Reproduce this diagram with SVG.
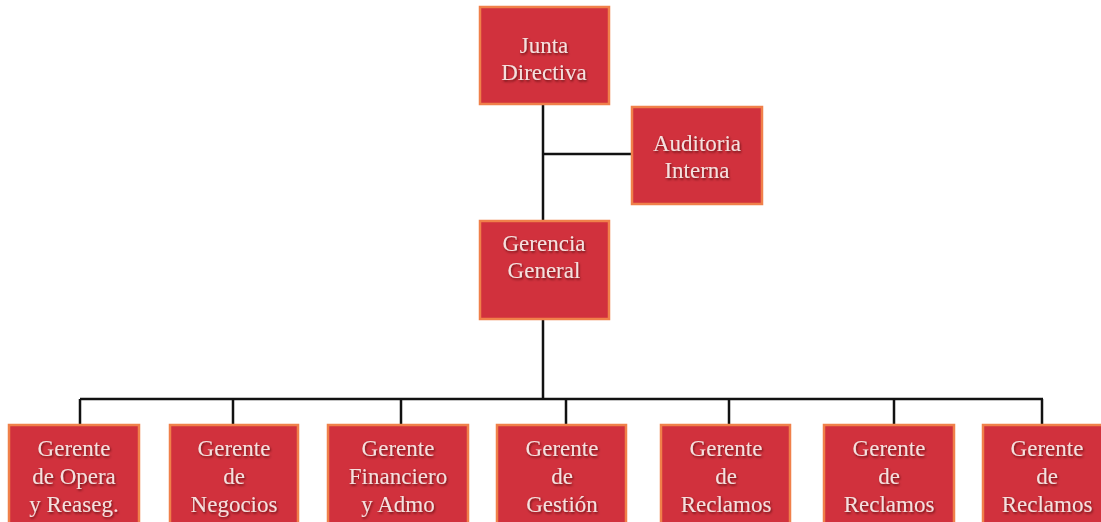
<svg xmlns="http://www.w3.org/2000/svg" width="1101" height="522" viewBox="0 0 1101 522">
<defs>
<filter id="sh" x="-10%" y="-10%" width="130%" height="140%">
<feDropShadow dx="1" dy="1.5" stdDeviation="0.8" flood-color="#3a0a0a" flood-opacity="0.7"/>
</filter>
<style>
.box{fill:#D1313D;stroke:#F0804A;stroke-width:2.5}
.t{font-family:"Liberation Serif","Times New Roman",serif;font-size:23px;fill:#F5E0DE;text-anchor:middle;filter:url(#sh)}
.c{stroke:#111;stroke-width:2.5;fill:none}
</style>
</defs>
<rect width="1101" height="522" fill="#fff"/>
<g id="connectors">
<path class="c" d="M543 104V221M543 154H632M543 319V399M80 399H1043M80 399V425M233 399V425M401 399V425M566 399V425M729 399V425M894 399V425M1042 399V425"/>
</g>
<g id="junta"><rect class="box" x="480" y="7" width="129" height="97"/><text class="t" x="544" y="53">Junta</text><text class="t" x="544" y="80">Directiva</text></g>
<g id="auditoria"><rect class="box" x="632" y="107" width="130" height="97"/><text class="t" x="697" y="151">Auditoria</text><text class="t" x="697" y="178">Interna</text></g>
<g id="gerencia"><rect class="box" x="480" y="221" width="129" height="98"/><text class="t" x="544" y="251">Gerencia</text><text class="t" x="544" y="278">General</text></g>
<g id="g1"><rect class="box" x="9" y="425" width="130" height="110"/><text class="t" x="74" y="456">Gerente</text><text class="t" x="74" y="484">de Opera</text><text class="t" x="74" y="512">y Reaseg.</text></g>
<g id="g2"><rect class="box" x="170" y="425" width="128" height="110"/><text class="t" x="234" y="456">Gerente</text><text class="t" x="234" y="484">de</text><text class="t" x="234" y="512">Negocios</text></g>
<g id="g3"><rect class="box" x="328" y="425" width="140" height="110"/><text class="t" x="398" y="456">Gerente</text><text class="t" x="398" y="484">Financiero</text><text class="t" x="398" y="512">y Admo</text></g>
<g id="g4"><rect class="box" x="497" y="425" width="129" height="110"/><text class="t" x="562" y="456">Gerente</text><text class="t" x="562" y="484">de</text><text class="t" x="562" y="512">Gestión</text></g>
<g id="g5"><rect class="box" x="661" y="425" width="129" height="110"/><text class="t" x="726" y="456">Gerente</text><text class="t" x="726" y="484">de</text><text class="t" x="726" y="512">Reclamos</text></g>
<g id="g6"><rect class="box" x="824" y="425" width="130" height="110"/><text class="t" x="889" y="456">Gerente</text><text class="t" x="889" y="484">de</text><text class="t" x="889" y="512">Reclamos</text></g>
<g id="g7"><rect class="box" x="983" y="425" width="130" height="110"/><text class="t" x="1047" y="456">Gerente</text><text class="t" x="1047" y="484">de</text><text class="t" x="1047" y="512">Reclamos</text></g>
</svg>
